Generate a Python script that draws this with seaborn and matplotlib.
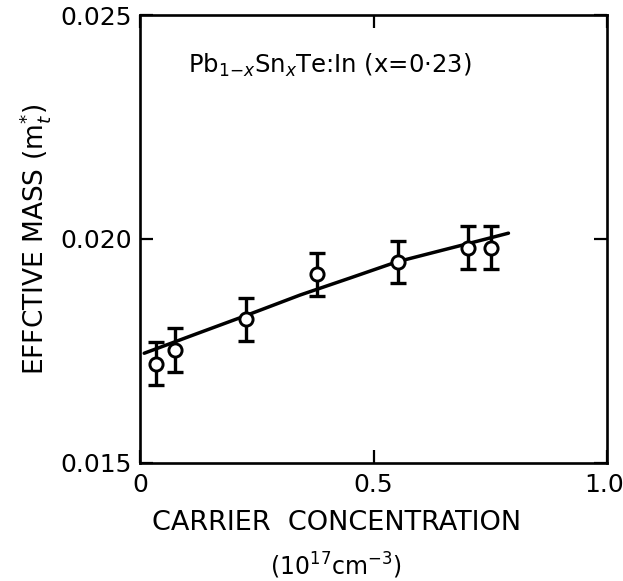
import matplotlib
matplotlib.use("Agg")
import matplotlib.pyplot as plt
from matplotlib.transforms import ScaledTranslation
import seaborn as sns
import pandas as pd

# Data points
carrier = [0.034, 0.075, 0.226, 0.378, 0.552, 0.703, 0.751]
mass = [0.01721, 0.01752, 0.01821, 0.01921, 0.01949, 0.01981, 0.01981]
mass_err = [0.00048, 0.00049, 0.00048, 0.00048, 0.00047, 0.00048, 0.00048]

# Fitted curve
curve_x = [0.009, 0.12, 0.224, 0.343, 0.45, 0.55, 0.70, 0.789]
curve_y = [0.01745, 0.01788, 0.01828, 0.01875, 0.01913, 0.01949, 0.01989, 0.02013]

x_ticks = [0, 0.5, 1.0]
x_tick_labels = ["0", "0.5", "1.0"]
y_ticks = [0.015, 0.020, 0.025]
y_tick_labels = ["0.015", "0.020", "0.025"]

sns.set_style("ticks")
plt.rcParams['font.family'] = ['DejaVu Sans']
plt.rcParams['mathtext.fontset'] = 'dejavusans'
plt.rcParams['text.color'] = 'black'
plt.rcParams['axes.labelcolor'] = 'black'
plt.rcParams['xtick.color'] = 'black'
plt.rcParams['ytick.color'] = 'black'
plt.rcParams['axes.edgecolor'] = 'black'

fig = plt.figure(figsize=(6.23, 5.81), dpi=100)
ax = fig.add_axes([140/623, 1-463/581, 467/623, 448/581])

pts = pd.DataFrame({"x": carrier, "y": mass, "err": mass_err})
cur = pd.DataFrame({"x": curve_x, "y": curve_y})

sns.lineplot(data=cur, x="x", y="y", ax=ax, color="black", lw=2.5,
             sort=False, estimator=None, zorder=2)
ax.errorbar(pts["x"], pts["y"], yerr=pts["err"], fmt="none", ecolor="black",
            elinewidth=2.4, capsize=5.5, capthick=2.4, zorder=3)
sns.scatterplot(data=pts, x="x", y="y", ax=ax, marker="o", s=90,
                facecolor="white", edgecolor="black", linewidth=2.1, zorder=4)

ax.set_xlim(0, 1.0)
ax.set_ylim(0.015, 0.025)
ax.set_xticks(x_ticks)
ax.set_xticklabels(x_tick_labels)
ax.set_yticks(y_ticks)
ax.set_yticklabels(y_tick_labels)

for s in ax.spines.values():
    s.set_linewidth(1.9)
    s.set_color("black")
    s.set_visible(True)

ax.tick_params(axis="both", which="major", direction="in", length=9.5, width=1.6,
               top=True, right=True, labelsize=18, color="black", labelcolor="black")
ax.tick_params(axis="x", pad=7)
ax.tick_params(axis="y", pad=6)

# nudge the last x tick label slightly left so it stays inside the figure
last = ax.get_xticklabels()[-1]
last.set_transform(last.get_transform() + ScaledTranslation(-3/100, 0, fig.dpi_scale_trans))

ax.set_xlabel("")
ax.set_ylabel(r"EFFCTIVE MASS (m$_t^{*}$)", fontsize=19, color="black")
ax.yaxis.set_label_coords(-0.186, 0.5)

ax.text(0.42, -0.106, "CARRIER  CONCENTRATION", transform=ax.transAxes,
        ha="center", va="top", fontsize=19.5, color="black")
ax.text(0.42, -0.195, r"(10$^{17}$cm$^{-3}$)", transform=ax.transAxes,
        ha="center", va="top", fontsize=17, color="black")

ax.text(0.407, 0.8705, r"Pb$_{1\mathregular{-}x}$Sn$_x$Te:In (x=0·23)",
        transform=ax.transAxes, ha="center", va="baseline", fontsize=17.5,
        color="black")

fig.savefig("out.png", dpi=100)
